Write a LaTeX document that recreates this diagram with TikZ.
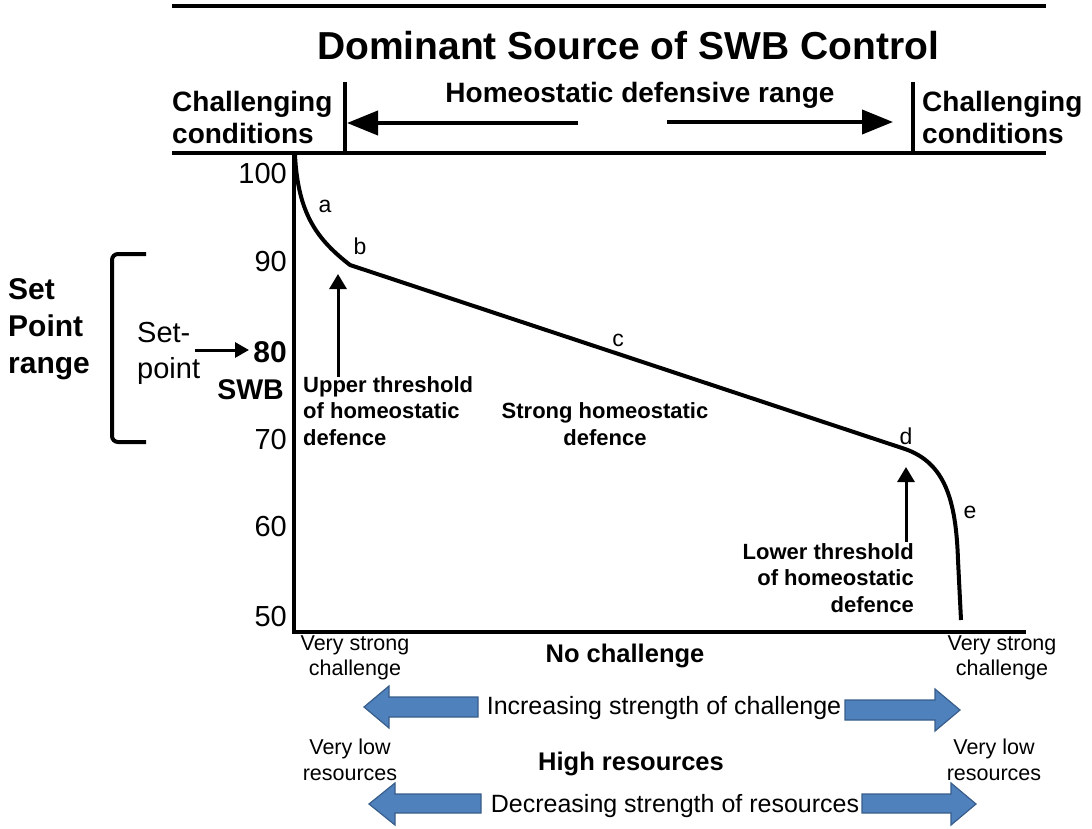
\documentclass[tikz,border=0pt]{standalone}
\usepackage{fontspec}
\setmainfont{Liberation Sans}
\usetikzlibrary{arrows.meta}
\definecolor{arrowfill}{RGB}{79,129,189}
\definecolor{arrowedge}{RGB}{56,93,138}
\begin{document}
\begin{tikzpicture}[x=1pt,y=-1pt,
  txt/.style={inner sep=0pt, align=center},
  titlefont/.style={txt, font=\fontsize{39}{44}\selectfont\bfseries},
  hdr/.style={txt, font=\fontsize{28}{32}\selectfont\bfseries},
  ticklab/.style={txt, anchor=east, font=\fontsize{29}{32}\selectfont},
  boldlab/.style={txt, font=\fontsize{22}{26.5}\selectfont\bfseries},
  letter/.style={txt, font=\fontsize{23}{24}\selectfont},
  small/.style={txt, font=\fontsize{21.5}{25.5}\selectfont},
  mid/.style={txt, font=\fontsize{25}{28}\selectfont},
  midbold/.style={txt, font=\fontsize{25.5}{28}\selectfont\bfseries},
  rule/.style={line width=4.5pt},
  axis/.style={line width=4pt},
  curve/.style={line width=4pt, line join=round},
  thinarrow/.style={line width=3pt, -{Triangle[length=15pt,width=17pt]}},
  hdrarrow/.style={line width=4pt, -{Triangle[length=31pt,width=24pt]}},
  blockarrow/.style={fill=arrowfill, draw=arrowedge, line width=1.2pt, line join=miter}]
\useasboundingbox (0,0) rectangle (1092,829);

% header rules and separators
\coordinate (topL) at (172,6);   \coordinate (topR) at (1046,6);
\coordinate (hdL) at (172,153);  \coordinate (hdR) at (1046,153);
\coordinate (sepLt) at (345,82); \coordinate (sepLb) at (345,153);
\coordinate (sepRt) at (913,82); \coordinate (sepRb) at (913,153);
\draw[rule] (topL) -- (topR);
\draw[axis] (hdL) -- (hdR);
\draw[line width=3.5pt] (sepLt) -- (sepLb);
\draw[line width=3.5pt] (sepRt) -- (sepRb);

\node[titlefont] (title) at (628,46) {Dominant Source of SWB Control};
\node[hdr, anchor=west, align=left] (chalL) at (172,117) {Challenging\\conditions};
\node[hdr, anchor=west, align=left] (chalR) at (922,117) {Challenging\\conditions};
\node[hdr] (homeo) at (640,95) {Homeostatic defensive range};

\coordinate (haL0) at (578,123); \coordinate (haL1) at (347,123);
\coordinate (haR0) at (667,122); \coordinate (haR1) at (893,122);
\draw[hdrarrow] (haL0) -- (haL1);
\draw[hdrarrow] (haR0) -- (haR1);

% axes
\coordinate (origin) at (294,632);
\coordinate (ytop) at (294,151);
\coordinate (xend) at (1026,632);
\draw[axis] (ytop) -- (origin) -- (xend);

% tick labels
\node[ticklab] (t100) at (287,174) {100};
\node[ticklab] (t90) at (287,262) {90};
\node[ticklab, font=\fontsize{30}{32}\selectfont\bfseries] (t80) at (287,352) {80};
\node[ticklab, font=\fontsize{28.5}{32}\selectfont\bfseries] (swb) at (284,390) {SWB};
\node[ticklab] (t70) at (287,440) {70};
\node[ticklab] (t60) at (287,527) {60};
\node[ticklab] (t50) at (287,617) {50};

% set-point range bracket
\draw[line width=4pt, rounded corners=6pt] (146,254) -- (112,254) -- (112,442) -- (146,442);
\node[txt, anchor=west, align=left, font=\fontsize{30}{37}\selectfont\bfseries] (spr) at (8,329) {Set\\Point\\range};
\node[txt, anchor=west, align=left, font=\fontsize{29}{36}\selectfont] (sp) at (137,353) {Set-\\point};
\coordinate (spa0) at (195,350); \coordinate (spa1) at (249,350);
\draw[line width=3pt, -{Triangle[length=14pt,width=15pt]}] (spa0) -- (spa1);

% SWB curve
\coordinate (c0) at (295,155);
\coordinate (cb) at (350,265);
\coordinate (cd) at (905,449);
\coordinate (cbend) at (958,560);
\coordinate (cend) at (961,620);
\draw[curve] (c0) .. controls (298,215) and (318,240) .. (cb) -- (cd)
  .. controls (945,463) and (956,500) .. (cbend) -- (cend);

\node[letter] (la) at (325,206) {a};
\node[letter] (lb) at (360,246) {b};
\node[letter] (lc) at (618,340) {c};
\node[letter] (ld) at (906,436) {d};
\node[letter] (le) at (970,512) {e};

% thresholds
\node[boldlab, anchor=north west, align=left] (upper) at (303,376) {Upper threshold\\of homeostatic\\defence};
\coordinate (ua0) at (338,377); \coordinate (ua1) at (338,274);
\draw[thinarrow] (ua0) -- (ua1);
\node[boldlab, anchor=north east, align=right] (lower) at (914,543) {Lower threshold\\of homeostatic\\defence};
\coordinate (la0) at (906,542); \coordinate (la1) at (906,467);
\draw[thinarrow] (la0) -- (la1);
\node[boldlab] (strong) at (605,424) {Strong homeostatic\\defence};

% bottom annotations
\node[small] (vscL) at (355,658) {Very strong\\challenge};
\node[small] (vscR) at (1002,658) {Very strong\\challenge};
\node[midbold] (noch) at (625,656) {No challenge};
\node[small] (vlrL) at (350,760) {Very low\\resources};
\node[small] (vlrR) at (994,760) {Very low\\resources};
\node[midbold] (highr) at (631,764) {High resources};

% block arrows
\draw[blockarrow] (364,707) -- (389,686) -- (389,697) -- (478,697) -- (478,717) -- (389,717) -- (389,728) -- cycle;
\draw[blockarrow] (960,710) -- (935,689) -- (935,700) -- (845,700) -- (845,720) -- (935,720) -- (935,731) -- cycle;
\node[mid] (inc) at (664,708) {Increasing strength of challenge};
\draw[blockarrow] (369,804) -- (395,783) -- (395,794) -- (481,794) -- (481,813) -- (395,813) -- (395,825) -- cycle;
\draw[blockarrow] (976,804) -- (951,783) -- (951,794) -- (862,794) -- (862,813) -- (951,813) -- (951,825) -- cycle;
\node[mid] (dec) at (675,806) {Decreasing strength of resources};
\end{tikzpicture}
\end{document}
